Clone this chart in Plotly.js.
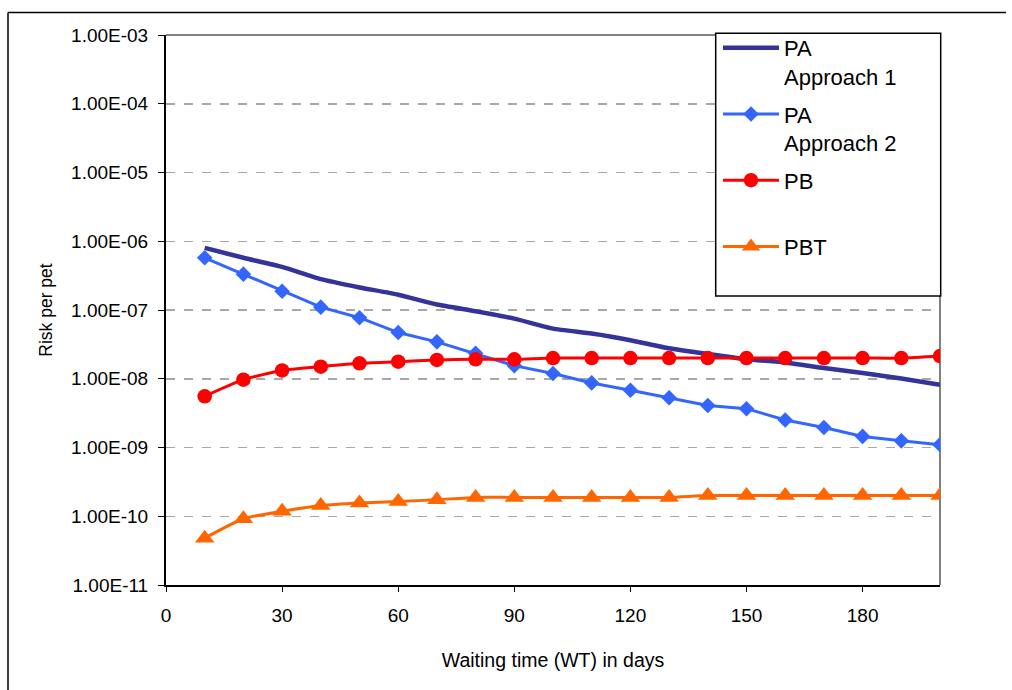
<!DOCTYPE html>
<html>
<head>
<meta charset="utf-8">
<script src="https://cdn.plot.ly/plotly-3.0.1.min.js"></script>
<style>
  html, body { margin: 0; padding: 0; background: #ffffff; }
  #chart { width: 1012px; height: 690px; }
</style>
</head>
<body>
<div id="chart"></div>
<script>
// ---- data ----
const waitingDays = [10, 20, 30, 40, 50, 60, 70, 80, 90, 100, 110, 120, 130, 140, 150, 160, 170, 180, 190, 200];
const paApproach1 = [8.0e-7, 5.75e-7, 4.23e-7, 2.81e-7, 2.13e-7, 1.67e-7, 1.2e-7, 9.6e-8, 7.5e-8, 5.36e-8,
                     4.55e-8, 3.64e-8, 2.77e-8, 2.29e-8, 1.92e-8, 1.72e-8, 1.43e-8, 1.21e-8, 1.01e-8, 8.2e-9];
const paApproach2 = [5.75e-7, 3.32e-7, 1.87e-7, 1.10e-7, 7.73e-8, 4.70e-8, 3.44e-8, 2.34e-8, 1.55e-8, 1.19e-8,
                     8.7e-9, 6.8e-9, 5.3e-9, 4.09e-9, 3.67e-9, 2.51e-9, 1.95e-9, 1.45e-9, 1.25e-9, 1.10e-9];
const pb = [5.56e-9, 9.7e-9, 1.32e-8, 1.50e-8, 1.68e-8, 1.77e-8, 1.88e-8, 1.92e-8, 1.92e-8, 2.0e-8,
            2.0e-8, 2.0e-8, 2.0e-8, 2.0e-8, 2.0e-8, 2.0e-8, 2.0e-8, 2.0e-8, 2.0e-8, 2.14e-8];
const pbt = [4.8e-11, 9.2e-11, 1.18e-10, 1.43e-10, 1.56e-10, 1.64e-10, 1.74e-10, 1.88e-10, 1.88e-10, 1.88e-10,
             1.88e-10, 1.88e-10, 1.88e-10, 2.0e-10, 2.0e-10, 2.0e-10, 2.0e-10, 2.0e-10, 2.0e-10, 2.0e-10];
const seriesNames = ["PA<br>Approach 1", "PA<br>Approach 2", "PB<br> ", "PBT<br> "];
const yTickValues = [1e-11, 1e-10, 1e-9, 1e-8, 1e-7, 1e-6, 1e-5, 1e-4, 1e-3];
const yTickLabels = ["1.00E-11", "1.00E-10", "1.00E-09", "1.00E-08", "1.00E-07", "1.00E-06", "1.00E-05", "1.00E-04", "1.00E-03"];
const xTickValues = [0, 30, 60, 90, 120, 150, 180];
const xTitle = "Waiting time (WT) in days";
const yTitle = "Risk per pet";

// ---- geometry helpers (paper coords) ----
const W = 1012, H = 690;
const M = {l: 166, r: 72, t: 35, b: 105};
const pw = W - M.l - M.r, ph = H - M.t - M.b;
const px = x => (x - M.l) / pw;
const py = y => (H - M.b - y) / ph;

const FONT = "Arial, 'Liberation Sans', sans-serif";

const traces = [
  {x: waitingDays, y: paApproach1, name: seriesNames[0], legendgroup: "g1", mode: "lines",
   line: {color: "#333399", width: 4.5, shape: "spline", smoothing: 0.5}},
  {x: waitingDays, y: paApproach2, name: seriesNames[1], legendgroup: "g2", mode: "lines+markers",
   line: {color: "#3366FF", width: 3}, marker: {symbol: "diamond", size: 12, color: "#3366FF"}},
  {x: waitingDays, y: pb, name: seriesNames[2], legendgroup: "g3", mode: "lines+markers",
   line: {color: "#FF0000", width: 3, shape: "spline", smoothing: 0.6}, marker: {symbol: "circle", size: 14.5, color: "#FF0000"}},
  {x: waitingDays, y: pbt, name: seriesNames[3], legendgroup: "g4", mode: "lines+markers",
   line: {color: "#FF6600", width: 3, shape: "spline", smoothing: 0.6}, marker: {symbol: "triangle-up", size: 17, color: "#FF6600"}}
];

const layout = {
  width: W, height: H,
  margin: M,
  paper_bgcolor: "#ffffff", plot_bgcolor: "#ffffff",
  font: {family: FONT, color: "#000000", size: 17},
  showlegend: true,
  legend: {
    x: px(718), y: py(27), xanchor: "left", yanchor: "top",
    bgcolor: "rgba(0,0,0,0)", borderwidth: 0,
    font: {family: FONT, size: 22, color: "#000000"},
    valign: "top", itemwidth: 56, tracegroupgap: 6, traceorder: "grouped"
  },
  xaxis: {
    range: [0, 200], tickmode: "array", tickvals: xTickValues,
    ticks: "outside", ticklen: 5, tickwidth: 1, tickcolor: "#000000",
    showgrid: false, zeroline: false,
    showline: true, linecolor: "#000000", linewidth: 2,
    tickfont: {family: FONT, size: 19, color: "#000000"},
    ticklabelstandoff: 7,
    title: {text: xTitle, font: {family: FONT, size: 19.5, color: "#000000"}, standoff: 29},
    automargin: false
  },
  yaxis: {
    type: "log", range: [-11, -3], tickmode: "array",
    tickvals: yTickValues, ticktext: yTickLabels,
    ticks: "outside", ticklen: 6, tickwidth: 1, tickcolor: "#000000",
    showgrid: true, gridcolor: "#a8a8a8", gridwidth: 1.5, griddash: "dash",
    zeroline: false, showline: true, linecolor: "#000000", linewidth: 2,
    tickfont: {family: FONT, size: 19, color: "#000000"},
    ticklabelstandoff: 6,
    title: {text: yTitle, font: {family: FONT, size: 17.5, color: "#000000"}, standoff: 14},
    automargin: false
  },
  shapes: [
    // outer chart border (top & left)
    {type: "line", xref: "paper", yref: "paper", x0: px(8), x1: px(1006), y0: py(12.5), y1: py(12.5),
     line: {color: "#000000", width: 1.5}},
    {type: "line", xref: "paper", yref: "paper", x0: px(8), x1: px(8), y0: py(12.5), y1: py(692),
     line: {color: "#000000", width: 1.5}},
    // plot area border top & right (gray)
    {type: "line", xref: "paper", yref: "paper", x0: 0, x1: 1, y0: 1, y1: 1,
     line: {color: "#808080", width: 2}, layer: "below"},
    {type: "line", xref: "paper", yref: "paper", x0: 1, x1: 1, y0: 0, y1: 1,
     line: {color: "#808080", width: 2}, layer: "below"},
    // legend box
    {type: "rect", xref: "paper", yref: "paper", x0: px(715.7), x1: px(940.7), y0: py(296), y1: py(33.3),
     line: {color: "#000000", width: 1.5}, fillcolor: "#ffffff", layer: "above"}
  ]
};

Plotly.newPlot("chart", traces, layout, {displayModeBar: false, staticPlot: true});
</script>
</body>
</html>
